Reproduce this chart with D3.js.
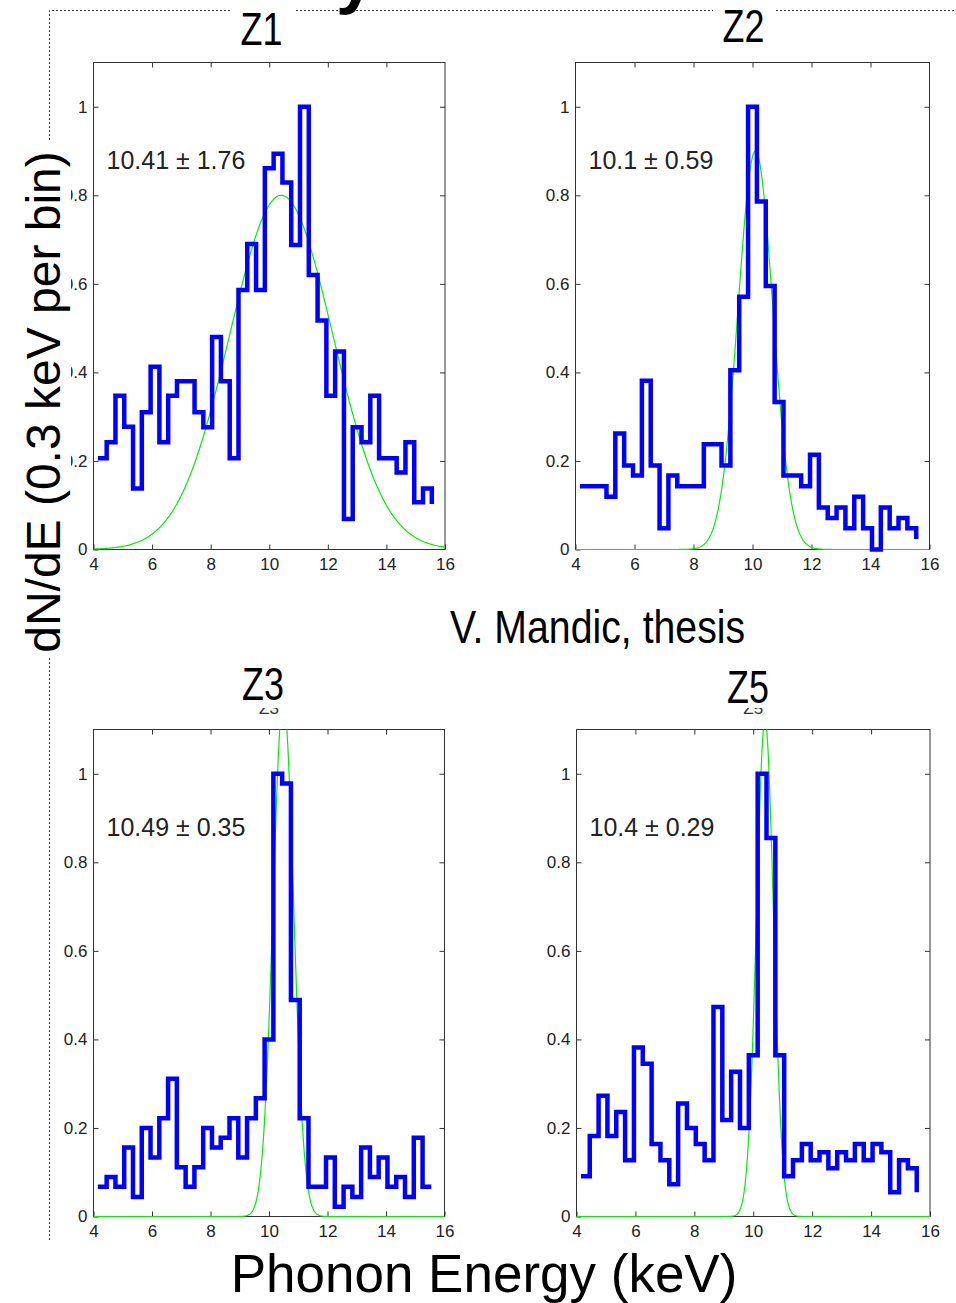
<!DOCTYPE html>
<html>
<head>
<meta charset="utf-8">
<script src="https://cdn.jsdelivr.net/npm/d3@7"></script>
<style>
  body { margin: 0; background: #fff; }
  text { font-family: "Liberation Sans", Arial, Helvetica, sans-serif; }
</style>
</head>
<body>
<div id="chart"></div>
<script>
const width = 956;
const height = 1303;

// Histograms: normalised counts per 0.3 keV bin (stairs, last value is the closing step)
const panelNames = ["Z1", "Z2", "Z3", "Z5"];
const binStart = 4.15;
const binWidth = 0.3;
const z1Values = [0.206, 0.242, 0.347, 0.277, 0.138, 0.31, 0.413, 0.242, 0.347, 0.38,
  0.38, 0.31, 0.276, 0.48, 0.38, 0.206, 0.586, 0.69, 0.586, 0.861,
  0.894, 0.829, 0.688, 1.0, 0.62, 0.517, 0.347, 0.447, 0.069, 0.276,
  0.242, 0.347, 0.206, 0.206, 0.174, 0.242, 0.107, 0.138, 0.103];
const z2Values = [0.143, 0.143, 0.143, 0.119, 0.262, 0.19, 0.167, 0.381, 0.19, 0.048,
  0.167, 0.143, 0.143, 0.143, 0.238, 0.238, 0.19, 0.405, 0.571, 1.0,
  0.786, 0.595, 0.333, 0.167, 0.167, 0.143, 0.214, 0.095, 0.071, 0.095,
  0.048, 0.119, 0.048, 0.0, 0.095, 0.048, 0.071, 0.048, 0.024];
const z3Values = [0.067, 0.089, 0.067, 0.156, 0.044, 0.2, 0.133, 0.222, 0.311, 0.111,
  0.067, 0.111, 0.2, 0.156, 0.178, 0.222, 0.133, 0.222, 0.267, 0.4,
  1.0, 0.978, 0.489, 0.222, 0.067, 0.067, 0.133, 0.022, 0.067, 0.044,
  0.156, 0.089, 0.133, 0.067, 0.089, 0.044, 0.178, 0.067, 0.067];
const z5Values = [0.091, 0.182, 0.273, 0.182, 0.236, 0.127, 0.382, 0.345, 0.164, 0.127,
  0.073, 0.255, 0.2, 0.164, 0.127, 0.473, 0.218, 0.327, 0.2, 0.364,
  1.0, 0.855, 0.364, 0.091, 0.127, 0.164, 0.127, 0.145, 0.109, 0.145,
  0.127, 0.164, 0.127, 0.164, 0.145, 0.055, 0.127, 0.109, 0.055];
const allValues = [z1Values, z2Values, z3Values, z5Values];

// Gaussian fits
const fitMean = [10.41, 10.1, 10.49, 10.4];
const fitSigma = [1.76, 0.59, 0.35, 0.29];
const fitPeak = [0.80, 0.90, 1.17, 1.12];
const fitLabels = ["10.41 \u00b1 1.76", "10.1 \u00b1 0.59", "10.49 \u00b1 0.35", "10.4 \u00b1 0.29"];

const xTicks = [4, 6, 8, 10, 12, 14, 16];
const yTicks = [0, 0.2, 0.4, 0.6, 0.8, 1];
const yTickLabels = ["0", "0.2", "0.4", "0.6", "0.8", "1"];

const svg = d3.select("#chart").append("svg")
  .attr("width", width)
  .attr("height", height);

// dotted slide frame
svg.append("path")
  .attr("d", "M49.5,1240V10.5H956")
  .attr("fill", "none")
  .attr("stroke", "#333")
  .attr("stroke-dasharray", "2,2");

// cut-off title letter at the very top
svg.append("text")
  .attr("x", 336).attr("y", 0)
  .attr("font-size", 70).attr("font-weight", "bold")
  .text("y");

const boxes = [
  { left: 93.5, right: 445, top: 62.5, bottom: 549.5 },
  { left: 575.5, right: 929.5, top: 62.5, bottom: 549.5 },
  { left: 93.5, right: 444.5, top: 729.5, bottom: 1216.5 },
  { left: 576.5, right: 930, top: 729.5, bottom: 1216.5 }
];

boxes.forEach((b, i) => {
  const x = d3.scaleLinear().domain([4, 16]).range([b.left, b.right]);
  const y = d3.scaleLinear().domain([0, 1.1]).range([b.bottom, b.top]);
  const g = svg.append("g");

  g.append("clipPath").attr("id", "clip" + i)
    .append("rect")
    .attr("x", b.left - 3).attr("y", b.top)
    .attr("width", b.right - b.left + 6).attr("height", b.bottom - b.top + 4);

  g.append("rect")
    .attr("x", b.left).attr("y", b.top)
    .attr("width", b.right - b.left).attr("height", b.bottom - b.top)
    .attr("fill", "#fff").attr("stroke", "#333");

  const axisStyle = sel => {
    sel.attr("color", "#333").attr("font-size", 17).attr("font-family", "Liberation Sans, Arial, sans-serif");
    sel.select(".domain").remove();
    sel.selectAll("text").attr("fill", "#222");
  };

  g.append("g").attr("transform", `translate(0,${b.bottom})`)
    .call(d3.axisBottom(x).tickValues(xTicks).tickSize(-5).tickPadding(8).tickFormat(d3.format("d")))
    .call(axisStyle);
  g.append("g").attr("transform", `translate(0,${b.top})`)
    .call(d3.axisTop(x).tickValues(xTicks.slice(1, -1)).tickSize(-5).tickFormat(""))
    .call(axisStyle);
  g.append("g").attr("transform", `translate(${b.left},0)`)
    .call(d3.axisLeft(y).tickValues(yTicks).tickSize(-5).tickPadding(6).tickFormat((d, k) => yTickLabels[k]))
    .call(axisStyle);
  g.append("g").attr("transform", `translate(${b.right},0)`)
    .call(d3.axisRight(y).tickValues(yTicks.slice(1)).tickSize(-5).tickFormat(""))
    .call(axisStyle);

  // fitted gaussian
  const grid = d3.range(4, 16.0001, 0.02);
  const fit = grid.map(e => [e, fitPeak[i] * Math.exp(-((e - fitMean[i]) ** 2) / (2 * fitSigma[i] ** 2))]);
  g.append("path")
    .datum(fit)
    .attr("clip-path", `url(#clip${i})`)
    .attr("d", d3.line().x(d => x(d[0])).y(d => y(d[1])))
    .attr("fill", "none")
    .attr("stroke", "#00f000")
    .attr("stroke-width", 1.2);

  // histogram stairs
  const steps = allValues[i].map((v, k) => [binStart + k * binWidth, v]);
  g.append("path")
    .datum(steps)
    .attr("d", d3.line().curve(d3.curveStepAfter).x(d => x(d[0])).y(d => y(d[1])))
    .attr("fill", "none")
    .attr("stroke", "#0000ff")
    .attr("stroke-width", 4.5)
    .attr("stroke-linejoin", "miter");

  g.append("text")
    .attr("x", b.left + 13)
    .attr("y", b.top + 106)
    .attr("font-size", 25)
    .attr("fill", "#222")
    .text(fitLabels[i]);

  // small original titles (mostly hidden behind the big labels)
  if (i >= 2) {
    g.append("text")
      .attr("x", (b.left + b.right) / 2)
      .attr("y", b.top - 16)
      .attr("text-anchor", "middle")
      .attr("font-size", 17)
      .attr("fill", "#333")
      .text(panelNames[i]);
  }
});

// big panel labels on white boxes
const bigTitles = [
  { cx: 261.5, base: 45, rx: 232, ry: 0, rw: 64, rh: 56 },
  { cx: 743.5, base: 42, rx: 713, ry: 0, rw: 62, rh: 56 },
  { cx: 263, base: 700, rx: 232, ry: 656, rw: 66, rh: 52 },
  { cx: 748, base: 703, rx: 716, ry: 656, rw: 66, rh: 52 }
];
bigTitles.forEach((t, i) => {
  svg.append("rect")
    .attr("x", t.rx).attr("y", t.ry).attr("width", t.rw).attr("height", t.rh)
    .attr("fill", "#fff");
  svg.append("text")
    .attr("transform", `translate(${t.cx},${t.base}) scale(0.78,1)`)
    .attr("text-anchor", "middle")
    .attr("font-size", 46)
    .text(panelNames[i]);
});

// y axis title
svg.append("rect")
  .attr("x", 14).attr("y", 140).attr("width", 57).attr("height", 516)
  .attr("fill", "#fff");
svg.append("text")
  .attr("transform", "translate(60,402) rotate(-90)")
  .attr("text-anchor", "middle")
  .attr("font-size", 48)
  .text("dN/dE (0.3 keV per bin)");

svg.append("text")
  .attr("transform", "translate(450,643) scale(0.835,1)")
  .attr("font-size", 47)
  .text("V. Mandic, thesis");

svg.append("text")
  .attr("x", 484).attr("y", 1292)
  .attr("text-anchor", "middle")
  .attr("font-size", 53)
  .text("Phonon Energy (keV)");
</script>
</body>
</html>
